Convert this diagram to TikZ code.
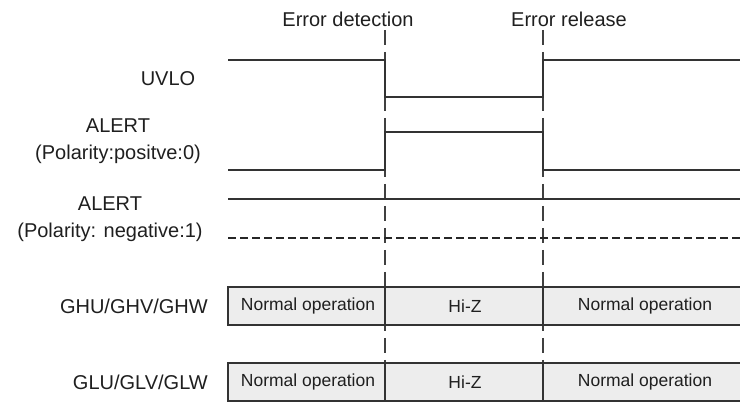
\documentclass[tikz,border=0pt]{standalone}
\usepackage{fontspec}
\setmainfont{Liberation Sans}
\begin{document}
\begin{tikzpicture}[x=1pt,y=-1pt,
  lbl/.style={inner sep=0pt,text=black!88,font=\fontsize{20}{27}\selectfont,align=center},
  boxtxt/.style={inner sep=0pt,text=black!88,font=\fontsize{17.5}{20}\selectfont},
  sig/.style={draw=black!80,line width=1.8pt,line join=miter},
  guide/.style={draw=black!75,line width=1.8pt,dash pattern=on 15pt off 7pt},
  dsig/.style={draw=black!85,line width=1.8pt,dash pattern=on 8pt off 4pt},
  seg/.style={draw=black!80,fill=black!7,line width=1.8pt}]
\useasboundingbox (0,0) rectangle (740,403);
% guides
\coordinate (d0) at (385,30); \coordinate (d1) at (385,363);
\coordinate (r0) at (543,30); \coordinate (r1) at (543,363);
\draw[guide] (d0) -- (d1);
\draw[guide] (r0) -- (r1);
\node[lbl] (tdet) at (348,19) {Error detection};
\node[lbl] (trel) at (569,19) {Error release};
% labels
\node[lbl] (luvlo) at (168,79) {UVLO};
\node[lbl] (lpos) at (118,141) {ALERT\\(Polarity:positve:0)};
\node[lbl] (lneg) at (110,219) {ALERT\\(Polarity: negative:1)};
\node[lbl,anchor=east] (lgh) at (208,306) {GHU/GHV/GHW};
\node[lbl,anchor=east] (lgl) at (208,382) {GLU/GLV/GLW};
% signals
\draw[sig] (228,60) -- (385,60) -- (385,97) -- (543,97) -- (543,60) -- (740,60);
\draw[sig] (228,170) -- (385,170) -- (385,132) -- (543,132) -- (543,170) -- (740,170);
\draw[sig] (228,199) -- (740,199);
\draw[dsig] (228,238) -- (740,238);
% boxes
\draw[seg] (228,287) rectangle (385,325);
\draw[seg] (385,287) rectangle (543,325);
\draw[seg] (543,287) -- (741,287) (741,325) -- (543,325) -- cycle;
\fill[black!7] (544,288) rectangle (741,324);
\draw[draw=black!80,line width=1.8pt] (543,287) -- (741,287) (543,325) -- (741,325);
\node[boxtxt] (g1) at (308,306) {Normal operation};
\node[boxtxt] (g2) at (465,306) {Hi-Z};
\node[boxtxt] (g3) at (645,306) {Normal operation};
\draw[seg] (228,363) rectangle (385,401);
\draw[seg] (385,363) rectangle (543,401);
\fill[black!7] (544,364) rectangle (741,400);
\draw[draw=black!80,line width=1.8pt] (543,363) -- (741,363) (543,401) -- (741,401);
\node[boxtxt] (h1) at (308,382) {Normal operation};
\node[boxtxt] (h2) at (465,382) {Hi-Z};
\node[boxtxt] (h3) at (645,382) {Normal operation};
\end{tikzpicture}
\end{document}
